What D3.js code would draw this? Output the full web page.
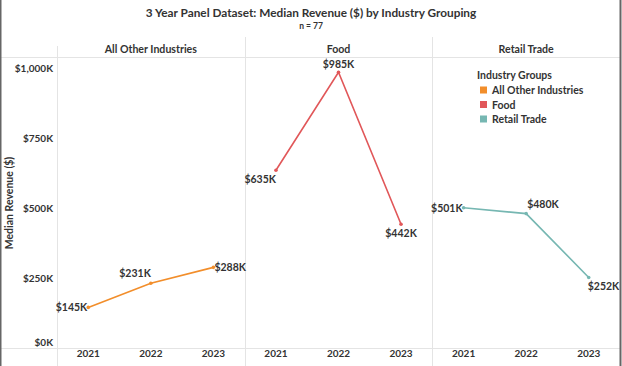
<!DOCTYPE html>
<html><head><meta charset="utf-8">
<script src="https://cdn.jsdelivr.net/npm/d3@7"></script>
<style>
html,body{margin:0;padding:0;background:#fff;}
svg{display:block;font-family:Lato, "Open Sans", sans-serif;}
</style></head>
<body><svg id="c" width="622" height="366"></svg>
<script>
// ---- data ----
const years = ["2021","2022","2023"];
const groups = ["All Other Industries","Food","Retail Trade"];
const allOtherValues = [145, 231, 288];   // $K
const foodValues = [635, 985, 442];
const retailValues = [501, 480, 252];
const yTicks = [0, 250, 500, 750, 1000];
const colors = ["#F28E2B","#E15759","#76B7B2"];
// label placement per point (style only)
const labelPlacement = [
  ["left","aboveLeft","right"],
  ["belowLeft","above","below"],
  ["left","aboveRight","belowRight"]
];

const seriesValues = [allOtherValues, foodValues, retailValues];
const W = 622, H = 366;
const svg = d3.select("#c");
const textCol = "#333";
const gridCol = "#e4e4e4";
const FW = 700;

const plotLeft = 57, plotRight = 620, headerTop = 37, headerBottom = 57, axisY = 348;
const paneX = d3.scaleBand().domain(groups).range([plotLeft, plotRight]).padding(0);
const y = d3.scaleLinear().domain([0, 1000]).range([axisY, 68]);

// title
svg.append("text").attr("x", 311).attr("y", 12).attr("text-anchor","middle").attr("dominant-baseline","central")
  .attr("font-size", 11.8).attr("font-weight", FW).attr("fill", textCol)
  .text("3 Year Panel Dataset: Median Revenue ($) by Industry Grouping");
svg.append("text").attr("x", 311).attr("y", 26).attr("text-anchor","middle").attr("dominant-baseline","central")
  .attr("font-size", 8.5).attr("font-weight", FW).attr("fill", textCol).text("n = 77");

// grid lines
svg.append("line").attr("x1",0).attr("x2",plotRight).attr("y1",headerBottom+0.5).attr("y2",headerBottom+0.5).attr("stroke",gridCol);
svg.append("line").attr("x1",0).attr("x2",plotRight).attr("y1",axisY+0.5).attr("y2",axisY+0.5).attr("stroke",gridCol);
groups.forEach((g,i)=>{
  const x0 = Math.round(paneX(g)) + 0.5;
  svg.append("line").attr("x1",x0).attr("x2",x0).attr("y1", i===0?46:headerTop).attr("y2",H).attr("stroke",gridCol);
});

// pane headers
svg.selectAll("text.hdr").data(groups).join("text").attr("class","hdr")
  .attr("x", d=>paneX(d)+paneX.bandwidth()/2).attr("y", 49).attr("text-anchor","middle").attr("dominant-baseline","central")
  .attr("font-size", 10.6).attr("font-weight", FW).attr("fill", textCol).text(d=>d);

// y axis
const yAxis = d3.axisLeft(y).tickValues(yTicks).tickSize(0).tickPadding(0)
  .tickFormat(d => "$" + d3.format(",")(d) + "K");
const ga = svg.append("g").attr("transform", `translate(53,0)`).call(yAxis);
ga.select(".domain").remove();
ga.selectAll("text").attr("font-family","Lato, sans-serif").attr("font-size", 10).attr("font-weight", FW).attr("fill", textCol)
  .attr("dy", d => d===0 ? "-0.25em" : "0.32em");
svg.append("text").attr("transform", `translate(9,203) rotate(-90)`).attr("text-anchor","middle").attr("dominant-baseline","central")
  .attr("font-size", 10.5).attr("font-weight", FW).attr("fill", textCol).text("Median Revenue ($)");

// x axes per pane
groups.forEach((g,i)=>{
  const xs = d3.scaleBand().domain(years).range([paneX(g), paneX(g)+paneX.bandwidth()]).padding(0);
  const ax = d3.axisBottom(xs).tickSize(0).tickPadding(0);
  const gx = svg.append("g").attr("transform", `translate(0,352)`).call(ax);
  gx.select(".domain").remove();
  gx.selectAll("text").attr("font-family","Lato, sans-serif").attr("font-size", 10).attr("font-weight", FW).attr("fill", textCol).attr("dy","0.5em");

  const vals = seriesValues[i];
  const pts = years.map((yr,j)=>({x: xs(yr)+xs.bandwidth()/2, y: y(vals[j]), v: vals[j], p: labelPlacement[i][j]}));
  const line = d3.line().x(d=>d.x).y(d=>d.y);
  svg.append("path").datum(pts).attr("d", line).attr("fill","none").attr("stroke", colors[i]).attr("stroke-width", 1.6);
  svg.selectAll(null).data(pts).join("circle").attr("cx",d=>d.x).attr("cy",d=>d.y).attr("r",1.8).attr("fill",colors[i]);

  const off = {
    left: [-1, 0, "end"], right: [1, 0, "start"], above: [0, -8, "middle"], below: [0, 9, "middle"],
    aboveLeft: [0, -10, "end"], aboveRight: [1, -10, "start"], belowLeft: [0, 9, "end"], belowRight: [-1, 9, "start"]
  };
  svg.selectAll(null).data(pts).join("text")
    .attr("x", d=>d.x + off[d.p][0]).attr("y", d=>d.y + off[d.p][1])
    .attr("text-anchor", d=>off[d.p][2]).attr("dominant-baseline","central")
    .attr("font-size", 10.5).attr("font-weight", FW).attr("fill", textCol)
    .text(d=>"$" + d.v + "K");
});

// legend
const lg = svg.append("g").attr("transform","translate(477,75)");
lg.append("text").attr("x",0).attr("y",0).attr("dominant-baseline","central").attr("font-size",10.5).attr("font-weight",FW).attr("fill",textCol).text("Industry Groups");
groups.forEach((g,i)=>{
  lg.append("rect").attr("x",3).attr("y",11.5+i*14.5).attr("width",7).attr("height",7).attr("fill",colors[i]);
  lg.append("text").attr("x",15).attr("y",15+i*14.5).attr("dominant-baseline","central").attr("font-size",10.5).attr("font-weight",FW).attr("fill",textCol).text(g);
});

// outer border
svg.append("line").attr("x1",0.75).attr("x2",0.75).attr("y1",0).attr("y2",H).attr("stroke","#666").attr("stroke-width",1.5);
svg.append("line").attr("x1",620.5).attr("x2",620.5).attr("y1",0).attr("y2",H).attr("stroke","#666").attr("stroke-width",2);
</script></body></html>
